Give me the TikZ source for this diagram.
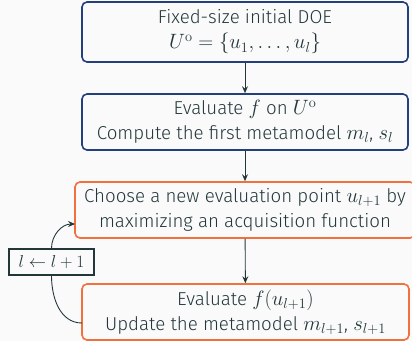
\documentclass[tikz,border=0pt]{standalone}
\usepackage[no-math]{fontspec}
\setmainfont{Fira Sans Light}[Scale=0.89]
\usetikzlibrary{arrows.meta}
\definecolor{mtext}{HTML}{23373B}
\definecolor{mblue}{HTML}{24407C}
\definecolor{morange}{HTML}{F2703C}
\definecolor{mbg}{HTML}{FAFAFA}
\begin{document}
\begin{tikzpicture}[x=1pt,y=-1pt,
  every node/.style={text=mtext,font=\fontsize{21}{25}\selectfont},
  bluebox/.style={draw=mblue,line width=1.6pt,rounded corners=5pt,minimum width=326pt,align=center,inner sep=0pt},
  orangebox/.style={draw=morange,line width=1.6pt,rounded corners=5pt,align=center,inner sep=0pt},
  incbox/.style={draw=mtext,line width=1.4pt,inner sep=0pt,minimum width=85pt,minimum height=26pt,font=\fontsize{16.5}{20}\selectfont},
  flow/.style={draw=mtext,line width=0.9pt,-{Stealth[length=7pt,width=6pt,inset=2.5pt]}},
  loopline/.style={draw=mtext,line width=0.9pt}]
\fill[mbg] (0,0) rectangle (412,341);
\useasboundingbox (0,0) rectangle (412,341);
\node[bluebox,minimum height=60pt] (doe) at (245,32) {Fixed-size initial DOE\\$U^{\mathrm{o}}=\{u_1,\ldots,u_l\}$};
\node[bluebox,minimum height=56pt] (eval) at (245,122) {Evaluate $f$ on $U^{\mathrm{o}}$\\Compute the first metamodel $m_l$, $s_l$};
\node[orangebox,minimum width=340pt,minimum height=56pt] (choose) at (245,210) {Choose a new evaluation point $u_{l+1}$ by\\maximizing an acquisition function};
\node[orangebox,minimum width=327pt,minimum height=56pt] (update) at (245.5,312) {Evaluate $f(u_{l+1})$\\Update the metamodel $m_{l+1}$, $s_{l+1}$};
\node[incbox] (inc) at (51.5,262) {$l\leftarrow l+1$};
\coordinate (cin) at (75,224);
\coordinate (uout) at (82,323);
\draw[flow] (doe) -- (eval);
\draw[flow] (eval) -- (choose);
\draw[flow] (choose) -- (update);
\draw[loopline] (uout) to[out=180,in=-90] (inc.south);
\draw[flow] (inc.north) to[out=90,in=180] (cin);
\end{tikzpicture}
\end{document}
